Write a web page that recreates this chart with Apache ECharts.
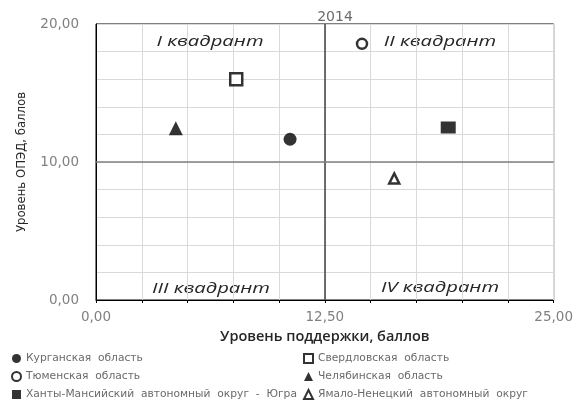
<!DOCTYPE html>
<html><head><meta charset="utf-8">
<script src="https://cdn.jsdelivr.net/npm/echarts@6/dist/echarts.min.js"></script>
<style>html,body{margin:0;padding:0;background:#fff}#c{width:576px;height:401px}</style>
</head><body><div id="c"></div>
<script>
const title = '2014';
const xName = 'Уровень поддержки, баллов';
const yName = 'Уровень ОПЭД, баллов';
const regions = ['Курганская  область','Свердловская  область','Тюменская  область','Челябинская  область','Ханты-Мансийский  автономный  округ  -  Югра','Ямало-Ненецкий  автономный  округ'];
const xVals = [10.6, 7.66, 14.53, 4.36, 19.24, 16.29];
const yVals = [11.65, 16.0, 18.56, 12.45, 12.5, 8.81];
const xTicksLabeled = [0, 12.5, 25];
const yTicksLabeled = [0, 10, 20];
const quadrants = ['I квадрант','II квадрант','III квадрант','IV квадрант'];
const midX = 12.5, midY = 10;

const symbols = [
  {symbol:'circle', size:13, style:{color:'#000'}},
  {symbol:'rect', size:12, style:{color:'#fff', borderColor:'#000', borderWidth:2.5}},
  {symbol:'circle', size:10, style:{color:'#fff', borderColor:'#000', borderWidth:2.5}},
  {symbol:'triangle', size:14, style:{color:'#000'}},
  {symbol:'rect', size:[15,12], style:{color:'#000'}},
  {symbol:'triangle', size:10, style:{color:'#fff', borderColor:'#000', borderWidth:2.5}}
];
const fmt = v => v.toFixed(2).replace('.', ',');

const series = regions.map((name, i) => ({
  name, type:'scatter', symbol:symbols[i].symbol, symbolSize:symbols[i].size,
  itemStyle:symbols[i].style, data:[[xVals[i], yVals[i]]], z:5
}));
series[0].markLine = {
  silent:true, symbol:'none', label:{show:false}, animation:false,
  data:[
    {xAxis:midX, lineStyle:{color:'#404040', width:1.5, type:'solid'}},
    {yAxis:midY, lineStyle:{color:'#808080', width:1.5, type:'solid'}}
  ]
};
const legTxt = {color:'#6a6a6a', fontSize:10.7, fontFamily:'DejaVu Sans'};
const legCommon = {orient:'vertical', top:353, itemGap:7, itemWidth:9, itemHeight:9, textStyle:legTxt, padding:0};
const chart = echarts.init(document.getElementById('c'), null, {renderer:'canvas'});
const qFont = {fill:'#262626', fontSize:15, fontStyle:'italic', fontFamily:'Open Sans', textAlign:'center', textVerticalAlign:'middle'};
const qText = (i, x, y) => ({type:'text', x, y, scaleX:1.35, style:Object.assign({text:quadrants[i]}, qFont)});
chart.setOption({
  animation:false,
  title:{text:title, left:330, top:5, textAlign:'center', textStyle:{color:'#6a6a6a', fontSize:14, fontWeight:'normal', fontFamily:'DejaVu Sans'}},
  grid:{left:96, right:21, top:24, bottom:101, show:true, borderColor:'#000', borderWidth:1},
  legend:[
    Object.assign({data:[regions[0], regions[2], regions[4]], left:11}, legCommon),
    Object.assign({data:[regions[1], regions[3], regions[5]], left:303}, legCommon)
  ],
  xAxis:{type:'value', min:0, max:25, interval:2.5,
    name:xName, nameLocation:'middle', nameGap:25,
    nameTextStyle:{color:'#262626', fontSize:14.5, fontWeight:600, fontFamily:'Open Sans'},
    axisLine:{show:true, lineStyle:{color:'#000', width:1}},
    axisTick:{show:true, length:3, lineStyle:{color:'#000'}},
    axisLabel:{color:'#808080', fontSize:13.5, fontFamily:'DejaVu Sans', margin:10,
      formatter:v => xTicksLabeled.includes(v) ? fmt(v) : ''},
    splitLine:{show:true, lineStyle:{color:'#d9d9d9', width:1}}
  },
  yAxis:{type:'value', min:0, max:20, interval:2,
    name:yName, nameLocation:'middle', nameGap:68, nameRotate:90,
    nameTextStyle:{color:'#262626', fontSize:13, fontFamily:'DejaVu Sans Condensed, Liberation Sans'},
    axisLine:{show:true, lineStyle:{color:'#000', width:1}},
    axisTick:{show:false},
    axisLabel:{color:'#808080', fontSize:13.5, fontFamily:'DejaVu Sans', margin:17,
      formatter:v => yTicksLabeled.includes(v) ? fmt(v) : ''},
    splitLine:{show:true, lineStyle:{color:'#d9d9d9', width:1}}
  },
  graphic:[qText(0, 210, 42), qText(1, 440, 42), qText(2, 211, 289), qText(3, 440, 288)],
  series
});
</script></body></html>
